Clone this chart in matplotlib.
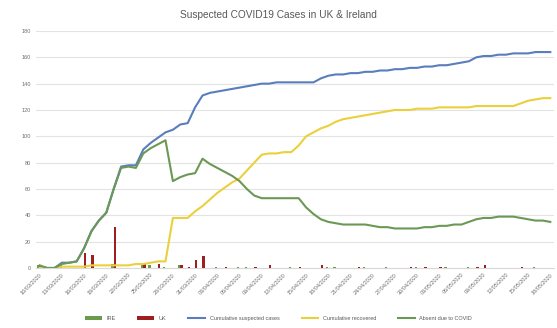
import numpy as np
import pandas as pd
import matplotlib
matplotlib.use("Agg")
import matplotlib.pyplot as plt

plt.rcParams['font.family'] = ['Liberation Sans', 'DejaVu Sans']

# daily categories
dates = pd.date_range("2020-03-10", periods=70, freq="D")
labels = [d.strftime("%d/%m/%Y") for d in dates]

suspected = [1, 0, 0, 4, 4, 5, 15, 28, 36, 42, 60, 77, 78, 78, 90, 95, 99, 103, 105, 109,
             110, 122, 131, 133, 134, 135, 136, 137, 138, 139, 140, 140, 141, 141, 141, 141, 141, 141, 144, 146,
             147, 147, 148, 148, 149, 149, 150, 150, 151, 151, 152, 152, 153, 153, 154, 154, 155, 156, 157, 160,
             161, 161, 162, 162, 163, 163, 163, 164, 164, 164]
recovered = [0, 0, 0, 1, 1, 1, 1, 2, 2, 2, 2, 2, 2, 3, 3, 4, 5, 5, 38, 38,
             38, 43, 47, 52, 57, 61, 65, 68, 74, 80, 86, 87, 87, 88, 88, 93, 100, 103, 106, 108,
             111, 113, 114, 115, 116, 117, 118, 119, 120, 120, 120, 121, 121, 121, 122, 122, 122, 122, 122, 123,
             123, 123, 123, 123, 123, 125, 127, 128, 129, 129]
absent = [2, 0, 0, 3, 4, 5, 15, 28, 36, 42, 60, 76, 77, 76, 87, 91, 94, 97, 66, 69,
          71, 72, 83, 79, 76, 73, 70, 66, 60, 55, 53, 53, 53, 53, 53, 53, 46, 41, 37, 35,
          34, 33, 33, 33, 33, 32, 31, 31, 30, 30, 30, 30, 31, 31, 32, 32, 33, 33, 35, 37,
          38, 38, 39, 39, 39, 38, 37, 36, 36, 35]

# new cases per day (sparse)
ire_new = {0: 2, 3: 3, 10: 3, 14: 3, 15: 2, 17: 1, 19: 2, 24: 1, 27: 1, 28: 1, 34: 1,
           39: 1, 40: 1, 44: 1, 47: 1, 51: 1, 55: 1, 58: 1, 67: 1}
uk_new = {6: 11, 7: 10, 10: 31, 14: 4, 16: 3, 19: 2, 20: 1, 21: 6, 22: 9, 25: 1, 29: 1,
          31: 2, 35: 1, 38: 2, 43: 1, 50: 1, 52: 1, 54: 1, 59: 1, 60: 2, 65: 1}

n = len(dates)
x = np.arange(n)
ire = np.array([ire_new.get(i, 0) for i in range(n)])
uk = np.array([uk_new.get(i, 0) for i in range(n)])

fig = plt.figure(figsize=(5.57, 3.28), dpi=100)
ax = fig.add_axes([0.0646, 0.183, 0.9300, 0.7225])

c_ire = '#6A9A4A'
c_uk = '#9E1F1F'
c_sus = '#5A7DBD'
c_rec = '#EBD03C'
c_abs = '#6C9855'

w = 0.32
b1 = ax.bar(x - w / 2, ire, width=w, color=c_ire, label='IRE', zorder=3)
b2 = ax.bar(x + w / 2, uk, width=w, color=c_uk, label='UK', zorder=3)
l1, = ax.plot(x, suspected, color=c_sus, lw=1.5, label='Cumulative suspected cases', zorder=4)
l2, = ax.plot(x, recovered, color=c_rec, lw=1.5, label='Cumulative recovered', zorder=4)
l3, = ax.plot(x, absent, color=c_abs, lw=1.5, label='Absent due to COVID', zorder=4)

ax.set_xlim(-0.5, n - 0.5)
ax.set_ylim(0, 180)
ax.set_yticks(range(0, 181, 20))
ax.set_xticks(x[::3])
ax.set_xticklabels(labels[::3], rotation=45, ha='right', rotation_mode='anchor')
ax.tick_params(axis='both', labelsize=4, colors='#6f6f6f', length=0)
ax.tick_params(axis='x', pad=3)
ax.grid(axis='y', color='#e3e3e3', lw=0.8, zorder=0)
for s in ['top', 'right', 'left']:
    ax.spines[s].set_visible(False)
ax.spines['bottom'].set_color('#d9d9d9')

fig.text(0.5, 0.955, 'Suspected COVID19 Cases in UK & Ireland', ha='center', va='center',
         fontsize=7.3, color='#595959')

handles = [b1, b2, l1, l2, l3]
fig.legend(handles, [h.get_label() for h in handles], loc='center', bbox_to_anchor=(0.5, 0.03),
           ncol=5, frameon=False, fontsize=4, handlelength=3, columnspacing=4, labelcolor='#595959')

fig.savefig('out.png', dpi=100)
